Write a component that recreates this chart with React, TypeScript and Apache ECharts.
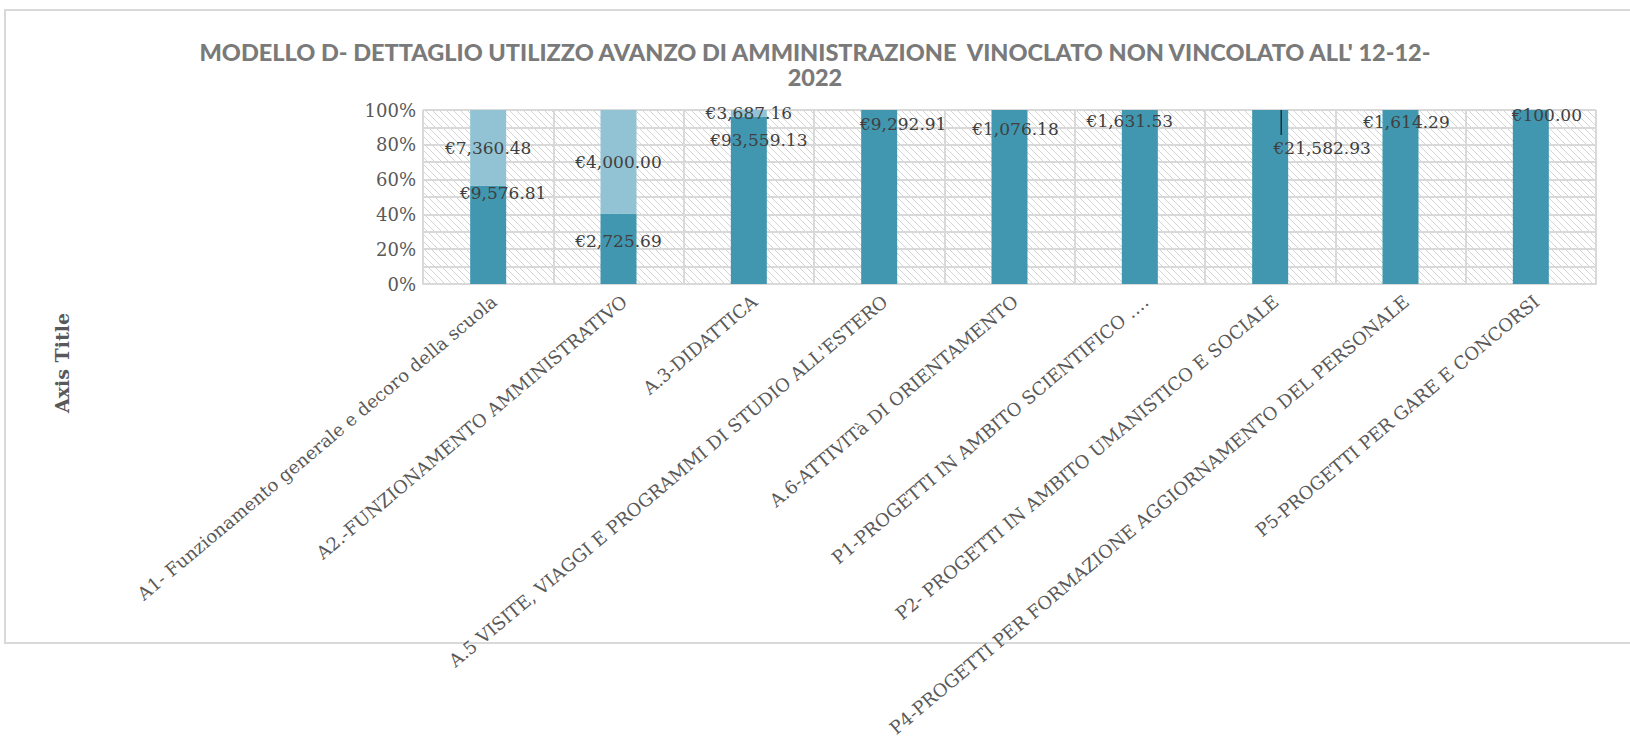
import React, { useEffect, useRef } from "react";
import * as echarts from "echarts";

const categories = [
  "A1- Funzionamento generale e decoro della scuola",
  "A2.-FUNZIONAMENTO AMMINISTRATIVO",
  "A.3-DIDATTICA",
  "A.5 VISITE, VIAGGI E PROGRAMMI DI STUDIO ALL'ESTERO",
  "A.6-ATTIVITà DI ORIENTAMENTO",
  "P1-PROGETTI IN AMBITO SCIENTIFICO ….",
  "P2- PROGETTI IN AMBITO UMANISTICO E SOCIALE",
  "P4-PROGETTI PER FORMAZIONE AGGIORNAMENTO DEL PERSONALE",
  "P5-PROGETTI PER GARE E CONCORSI",
];

const series1Values: (number | null)[] = [9576.81, 2725.69, 93559.13, 9292.91, 1076.18, 1631.53, 21582.93, 1614.29, 100.0];
const series2Values: (number | null)[] = [7360.48, 4000.0, 3687.16, null, null, null, null, null, null];

const yTicks = [0, 20, 40, 60, 80, 100];

const TITLE = "MODELLO D- DETTAGLIO UTILIZZO AVANZO DI AMMINISTRAZIONE  VINOCLATO NON VINCOLATO ALL' 12-12-\n2022";

// label styling (not data)
const s1LabelPos = ["insideTop", "inside", "insideTop", "insideTop", "insideTop", "insideTop", "insideTop", "insideTop", "insideTop"];
const s1LabelOffset = [[15, -6], [0, -8], [10, 10], [24, 0], [6, 5], [-10, -3], [52, 24], [6, -2], [16, -9]];

const fmt = (v: number) =>
  "€" + v.toLocaleString("en-US", { minimumFractionDigits: 2, maximumFractionDigits: 2 });

function makeHatch() {
  const s = 7;
  const c = document.createElement("canvas");
  c.width = s;
  c.height = s;
  const ctx = c.getContext("2d")!;
  ctx.fillStyle = "#ffffff";
  ctx.fillRect(0, 0, s, s);
  ctx.strokeStyle = "#d4d4d4";
  ctx.lineWidth = 1;
  ctx.beginPath();
  ctx.moveTo(-1, -1);
  ctx.lineTo(s + 1, s + 1);
  ctx.stroke();
  return { image: c, repeat: "repeat", imageWidth: s, imageHeight: s } as any;
}

export default function App() {
  const ref = useRef<HTMLDivElement>(null);
  useEffect(() => {
    document.body.style.margin = "0";
    const chart = echarts.init(ref.current!, null, { renderer: "svg" });
    const totals = series1Values.map((v, i) => (v || 0) + (series2Values[i] || 0));
    const pct1 = series1Values.map((v, i) => (v == null ? null : (v / totals[i]) * 100));
    const pct2 = series2Values.map((v, i) => (v == null ? null : (v / totals[i]) * 100));

    const serif = "DejaVu Serif";
    const labelBase = { show: true, color: "#404040", fontFamily: serif, fontSize: 17 };

    const borderRect = {
      type: "rect",
      z: -10,
      shape: { x: 5, y: 10, width: 1640, height: 633 },
      style: { fill: "none", stroke: "#d9d9d9", lineWidth: 2 },
      silent: true,
    };
    const axisTitle = {
      type: "text",
      x: 62,
      y: 363,
      rotation: Math.PI / 2,
      style: {
        text: "Axis Title",
        fontFamily: serif,
        fontWeight: "bold",
        fontSize: 19,
        fill: "#595959",
        align: "center",
        verticalAlign: "middle",
      },
    };

    const option: any = {
      animation: false,
      backgroundColor: "#ffffff",
      title: {
        text: TITLE,
        left: "center",
        top: 34,
        textStyle: { fontFamily: "Lato", fontWeight: 900, fontSize: 23.5, color: "#7a7a7a", lineHeight: 25 },
      },
      grid: {
        left: 423,
        right: 34,
        top: 110,
        bottom: 457,
        show: true,
        containLabel: false,
        outerBoundsMode: "none",
        backgroundColor: makeHatch(),
        borderWidth: 0,
      },
      xAxis: {
        type: "category",
        data: categories,
        axisLine: { show: true, lineStyle: { color: "#d9d9d9", width: 2 } },
        axisTick: { show: false },
        splitLine: { show: true, lineStyle: { color: "#d9d9d9", width: 2 } },
        axisLabel: {
          rotate: 40,
          interval: 0,
          margin: 8,
          verticalAlign: "top",
          color: "#595959",
          fontFamily: serif,
          fontSize: 18,
          hideOverlap: false,
        },
      },
      yAxis: {
        type: "value",
        min: 0,
        max: 100,
        interval: 10,
        axisLine: { show: false },
        axisTick: { show: false },
        splitLine: { show: true, lineStyle: { color: "#d9d9d9", width: 2 } },
        axisLabel: {
          margin: 7,
          color: "#595959",
          fontFamily: serif,
          fontSize: 18,
          formatter: (v: number) => (yTicks.includes(v) ? v + "%" : ""),
        },
      },
      series: [
        {
          name: "s1",
          type: "bar",
          stack: "total",
          barWidth: 36,
          itemStyle: { color: "#4197b0" },
          data: pct1.map((p, i) => ({
            value: p,
            label: {
              ...labelBase,
              position: s1LabelPos[i],
              distance: 5,
              offset: s1LabelOffset[i],
              formatter: () => fmt(series1Values[i] as number),
            },
          })),
        },
        {
          name: "s2",
          type: "bar",
          stack: "total",
          barWidth: 36,
          itemStyle: { color: "#92c3d4" },
          data: pct2.map((p, i) => ({
            value: p,
            label: {
              ...labelBase,
              show: p != null,
              position: "inside",
              formatter: () => (series2Values[i] == null ? "" : fmt(series2Values[i] as number)),
            },
          })),
        },
      ],
      graphic: [borderRect, axisTitle],
    };
    chart.setOption(option);

    // leader line for the displaced P2 label, positioned via the chart's scales
    const idx = 6;
    const top = chart.convertToPixel({ gridIndex: 0 }, [idx, 100]) as number[];
    if (top) {
      chart.setOption({
        graphic: [
          borderRect,
          axisTitle,
          {
            type: "line",
            shape: { x1: top[0] + 11, y1: top[1], x2: top[0] + 11, y2: top[1] + 25 },
            style: { stroke: "#000000", lineWidth: 1 },
            z: 100,
          },
        ],
      });
    }
    return () => chart.dispose();
  }, []);
  return <div ref={ref} style={{ width: 1630, height: 741 }} />;
}
